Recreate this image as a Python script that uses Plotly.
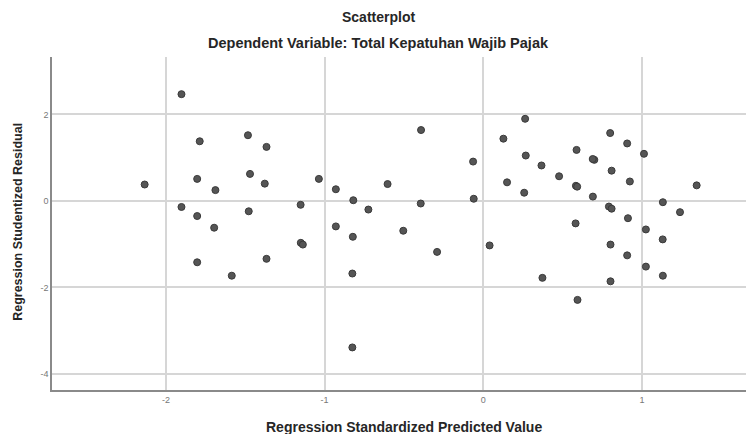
import plotly.graph_objects as go

title_text = "Scatterplot"
subtitle_text = "Dependent Variable: Total Kepatuhan Wajib Pajak"
x_title = "Regression Standardized Predicted Value"
y_title = "Regression Studentized Residual"

predicted = [
    -2.134, -1.902, -1.902, -1.787, -1.803, -1.803, -1.803, -1.688, -1.696, -1.585,
    -1.483, -1.470, -1.478, -1.366, -1.377, -1.366, -1.151, -1.150, -1.137, -1.036,
    -0.929, -0.929, -0.819, -0.822, -0.825, -0.825, -0.724, -0.603, -0.504, -0.392,
    -0.394, -0.291, -0.064, -0.060, 0.040, 0.127, 0.150, 0.264, 0.268, 0.258,
    0.367, 0.373, 0.478, 0.588, 0.584, 0.592, 0.582, 0.594, 0.700, 0.690,
    0.691, 0.800, 0.809, 0.792, 0.809, 0.802, 0.802, 0.907, 0.924, 0.912,
    0.907, 1.013, 1.025, 1.025, 1.132, 1.131, 1.132, 1.240, 1.345,
]
residual = [
    0.38, 2.47, -0.14, 1.38, 0.51, -0.35, -1.42, 0.25, -0.62, -1.73,
    1.52, 0.625, -0.24, 1.25, 0.40, -1.34, -0.09, -0.97, -1.01, 0.51,
    0.27, -0.59, 0.016, -0.83, -1.68, -3.39, -0.20, 0.39, -0.69, 1.64,
    -0.06, -1.18, 0.91, 0.05, -1.03, 1.44, 0.43, 1.90, 1.05, 0.19,
    0.82, -1.78, 0.57, 1.18, 0.35, 0.33, -0.52, -2.29, 0.95, 0.97,
    0.10, 1.57, 0.70, -0.13, -0.18, -1.01, -1.86, 1.33, 0.45, -0.40,
    -1.26, 1.09, -0.66, -1.52, -0.03, -0.89, -1.73, -0.26, 0.36,
]

x_ticks = [-2, -1, 0, 1]
y_ticks = [2, 0, -2, -4]

fig = go.Figure()
fig.add_trace(go.Scatter(
    x=predicted, y=residual, mode="markers",
    marker=dict(size=7, color="#555555", line=dict(color="#3a3a3a", width=1)),
    showlegend=False,
))

font_family = "Liberation Sans, Arial, sans-serif"
dark = "#262626"

fig.update_layout(
    width=747, height=434,
    margin=dict(l=52, r=1, t=57, b=44, autoexpand=False),
    paper_bgcolor="white", plot_bgcolor="white",
    font=dict(family=font_family, color=dark),
    annotations=[
        dict(text="<b>" + title_text + "</b>", x=0.471, xref="paper", y=1, yref="paper",
             xanchor="center", yanchor="middle", yshift=40,
             showarrow=False, font=dict(size=14, color=dark)),
        dict(text="<b>" + subtitle_text + "</b>", x=0.471, xref="paper", y=1, yref="paper",
             xanchor="center", yanchor="middle", yshift=14,
             showarrow=False, font=dict(size=14.5, color=dark)),
        dict(text="<b>" + x_title + "</b>", x=0.507, xref="paper", y=0, yref="paper",
             xanchor="center", yanchor="middle", yshift=-37,
             showarrow=False, font=dict(size=14, color=dark)),
        dict(text="<b>" + y_title + "</b>", x=0, xref="paper", y=0.505, yref="paper",
             xanchor="center", yanchor="middle", xshift=-34, textangle=-90,
             showarrow=False, font=dict(size=12.5, color=dark)),
    ],
)

fig.update_xaxes(
    range=[-2.718, 1.656], tickvals=x_ticks, ticktext=[str(v) for v in x_ticks],
    showgrid=True, gridcolor="#d6d6d6", gridwidth=1.5, zeroline=False,
    showline=True, linecolor="#8a8a8a", linewidth=1.5, ticks="",
    tickfont=dict(size=9, color="#777"), automargin=False,
)
fig.update_yaxes(
    range=[-4.375, 3.33], tickvals=y_ticks, ticktext=[str(v) for v in y_ticks],
    showgrid=True, gridcolor="#d6d6d6", gridwidth=1.5, zeroline=False,
    showline=True, linecolor="#8a8a8a", linewidth=1.5, ticks="",
    tickfont=dict(size=9, color="#777"), automargin=False,
)

fig.write_html("out.html", config={"displayModeBar": False},
               post_script="document.body.style.margin='0px';")
